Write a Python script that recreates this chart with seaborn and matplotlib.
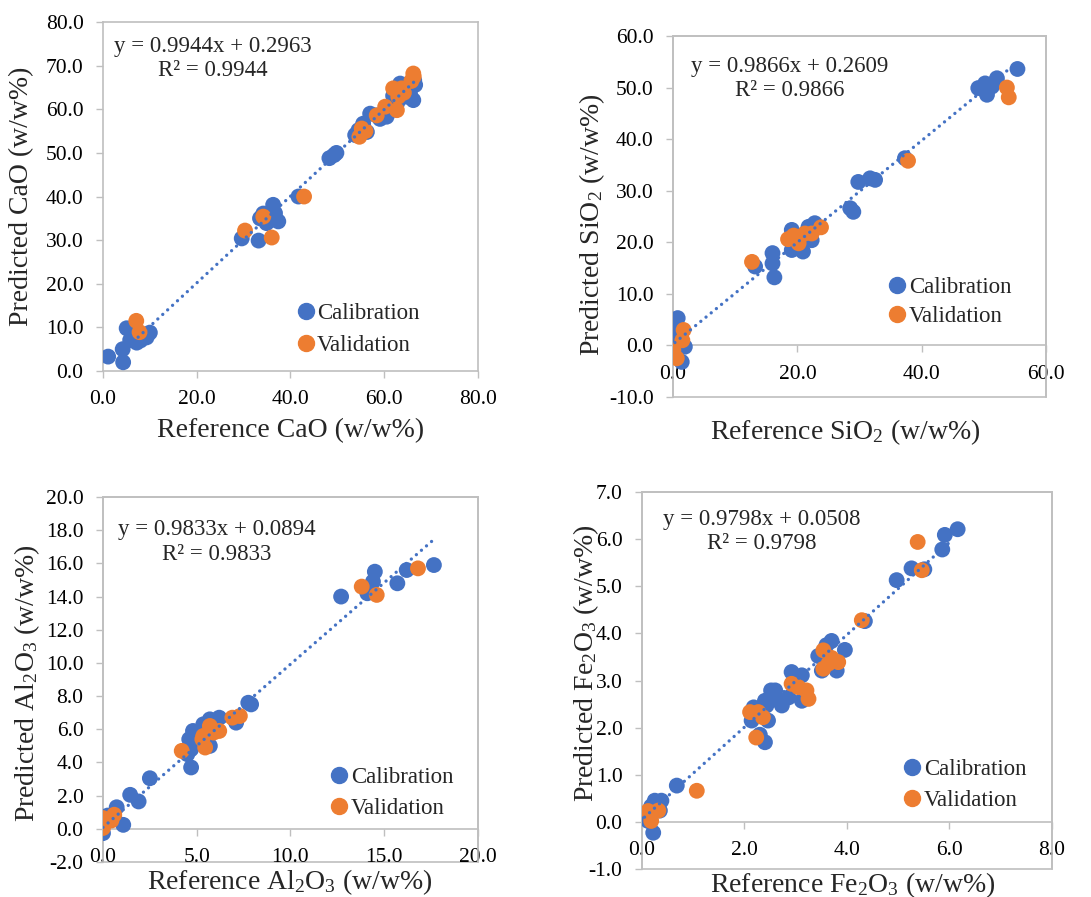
import numpy as np
import pandas as pd
import seaborn as sns
import matplotlib.pyplot as plt
from matplotlib.patches import Rectangle
from matplotlib.lines import Line2D

sns.set_style("white")
plt.rcParams['font.family'] = ['Liberation Serif', 'DejaVu Serif']
plt.rcParams['mathtext.default'] = 'regular'

BLUE = "#4472C4"
ORANGE = "#ED7D31"
FRAME = "#BFBFBF"

# ---- CaO ----
cao_cal_ref = [1.1, 4.3, 4.2, 5.05, 5.8, 7.2, 9.3, 10.0, 6.5, 8.0,
               29.6, 33.2, 33.5, 34.2, 34.9, 36.3, 36.7, 37.4, 35.5,
               41.7, 48.3, 49.8, 49.3,
               53.8, 54.5, 55.5, 56.3, 57.0, 58.4, 59.1, 60.5, 61.6, 61.9,
               63.4, 64.8, 66.2, 66.6, 66.4, 64.5, 62.8, 65.5]
cao_cal_pred = [3.3, 2.0, 5.0, 9.8, 7.1, 6.5, 7.7, 8.8, 8.0, 7.0,
                30.4, 29.9, 35.0, 36.1, 33.9, 38.1, 36.2, 34.3, 34.5,
                40.0, 48.8, 50.0, 49.5,
                54.1, 55.2, 56.7, 54.8, 59.0, 58.6, 57.8, 58.3, 59.8, 63.1,
                65.9, 62.9, 62.1, 65.6, 66.6, 64.0, 61.5, 63.5]
cao_val_ref = [7.1, 7.8, 30.3, 34.2, 36.0, 42.9, 54.7, 55.2, 56.0, 58.4,
               60.2, 62.7, 61.9, 63.7, 63.0, 64.2, 66.2, 66.3, 65.8]
cao_val_pred = [11.5, 8.9, 32.2, 35.4, 30.6, 40.0, 53.7, 55.6, 55.0, 58.6,
                60.6, 59.8, 64.8, 64.8, 62.9, 63.8, 68.2, 67.5, 66.5]

# ---- SiO2 ----
sio2_cal_ref = [55.4, 52.1, 49.1, 50.5, 50.2, 51.3, 37.3, 29.8, 31.7, 32.5,
                28.5, 29.0, 13.2, 16.0, 16.0, 16.3, 19.1, 19.1, 20.9, 21.8,
                22.8, 22.3, 20.4, 21.5, 0.75, 0.4, 1.9, 1.4, 1.0, 0.6]
sio2_cal_pred = [53.6, 51.8, 49.9, 48.6, 50.8, 50.2, 36.3, 31.7, 32.4, 32.1,
                 26.6, 25.9, 15.3, 17.9, 15.9, 13.2, 22.4, 18.5, 18.2, 23.0,
                 23.7, 20.4, 20.4, 22.0, 5.3, 3.3, -0.25, -3.2, 1.0, 1.5]
sio2_val_ref = [53.7, 54.0, 37.8, 12.7, 18.5, 20.2, 21.2, 22.3, 23.8, 19.4,
                1.7, 1.5, 0.05, 0.6]
sio2_val_pred = [50.0, 48.1, 35.8, 16.2, 20.6, 19.8, 21.7, 21.7, 22.9, 21.3,
                 3.0, 1.0, -0.9, -2.5]

# ---- Al2O3 ----
al2o3_cal_ref = [17.65, 16.2, 15.7, 14.5, 14.4, 14.1, 12.7, 7.9, 7.75, 7.1,
                 6.2, 4.8, 4.6, 4.7, 4.5, 4.7, 5.35, 5.7, 5.5, 5.7, 2.5, 1.45,
                 1.9, 0.73, 1.08, 0.6, 0.0, 0.25]
al2o3_cal_pred = [15.9, 15.6, 14.8, 15.5, 14.9, 14.2, 14.0, 7.5, 7.6, 6.4,
                  6.7, 5.9, 5.4, 4.8, 4.5, 3.7, 6.3, 6.6, 5.6, 5.0, 3.05, 2.05,
                  1.65, 1.3, 0.24, 0.7, -0.26, 0.8]
al2o3_val_ref = [16.8, 13.8, 14.6, 7.3, 6.9, 6.2, 4.2, 5.35, 5.7, 5.45, 5.9,
                 5.3, 0.0, 0.0, 0.6, 0.45]
al2o3_val_pred = [15.7, 14.6, 14.1, 6.8, 6.7, 5.9, 4.7, 5.6, 6.2, 4.9, 5.8,
                  5.4, 0.05, 0.65, 0.85, 0.5]

# ---- Fe2O3 ----
fe2o3_cal_ref = [6.16, 5.91, 5.86, 5.26, 5.51, 4.97, 4.35, 3.70, 3.96, 3.44,
                 3.51, 3.80, 3.6, 2.92, 3.12, 2.60, 2.73, 2.52, 2.68, 2.86,
                 3.12, 2.18, 2.14, 2.46, 2.4, 2.33, 2.40, 2.3, 2.43, 0.68,
                 0.25, 0.38, 0.35, 0.12, 0.22, 0.18]
fe2o3_cal_pred = [6.21, 6.09, 5.78, 5.38, 5.36, 5.13, 4.26, 3.84, 3.65, 3.52,
                  3.21, 3.21, 3.75, 3.18, 3.11, 2.79, 2.47, 2.79, 2.57, 2.64,
                  2.57, 2.43, 2.15, 2.15, 2.57, 2.37, 1.69, 1.85, 2.47, 0.77,
                  0.45, 0.45, 0.24, 0.02, -0.23, 0.33]
fe2o3_val_ref = [5.38, 5.46, 4.29, 3.54, 3.54, 3.70, 3.83, 3.64, 2.92, 3.21,
                 3.25, 3.05, 2.11, 2.27, 2.36, 2.23, 1.07, 0.12, 0.32, 0.18]
fe2o3_val_pred = [5.94, 5.34, 4.28, 3.64, 3.25, 3.48, 3.39, 3.36, 2.93, 2.79,
                  2.61, 2.86, 2.33, 2.33, 2.22, 1.79, 0.66, 0.23, 0.24, 0.02]

# trendline fits (slope, intercept, R2) and x-span
slopes = [0.9944, 0.9866, 0.9833, 0.9798]
intercepts = [0.2963, 0.2609, 0.0894, 0.0508]
r2_values = [0.9944, 0.9866, 0.9833, 0.9798]
trend_spans = [(7.5, 66.3), (0.3, 54.5), (0.0, 17.6), (0.05, 6.05)]

oxides = ["CaO", "SiO$_2$", "Al$_2$O$_3$", "Fe$_2$O$_3$"]

fig = plt.figure(figsize=(10.91, 8.97), dpi=100)

panels = [
    dict(cal=(cao_cal_ref, cao_cal_pred), val=(cao_val_ref, cao_val_pred),
         rect=[0.0944, 0.5864, 0.3437, 0.389], xlim=(0, 80), xstep=20,
         ylim=(0, 80), ystep=10, eq=(0.292, 0.895), leg=(0.516, 0.119),
         lsp=0.5, xlab=(0.5, -0.135), ylab=(-0.216, 0.5)),
    dict(cal=(sio2_cal_ref, sio2_cal_pred), val=(sio2_val_ref, sio2_val_pred),
         rect=[0.6169, 0.5574, 0.3419, 0.4025], xlim=(0, 60), xstep=20,
         ylim=(-10, 60), ystep=10, eq=(0.314, 0.882), leg=(0.577, 0.262),
         lsp=0.35, xlab=(0.461, -0.055), ylab=(-0.218, 0.476)),
    dict(cal=(al2o3_cal_ref, al2o3_cal_pred), val=(al2o3_val_ref, al2o3_val_pred),
         rect=[0.0944, 0.039, 0.3437, 0.4069], xlim=(0, 20), xstep=5,
         ylim=(-2, 20), ystep=2, eq=(0.304, 0.877), leg=(0.606, 0.189),
         lsp=0.4, xlab=(0.499, -0.013), ylab=(-0.203, 0.49)),
    dict(cal=(fe2o3_cal_ref, fe2o3_cal_pred), val=(fe2o3_val_ref, fe2o3_val_pred),
         rect=[0.5884, 0.0312, 0.3758, 0.4203], xlim=(0, 8), xstep=2,
         ylim=(-1, 7), ystep=1, eq=(0.293, 0.895), leg=(0.637, 0.222),
         lsp=0.43, xlab=(0.515, -0.003), ylab=(-0.135, 0.546)),
]

for i, p in enumerate(panels):
    ax = fig.add_axes(p["rect"])
    df = pd.concat([
        pd.DataFrame({"ref": p["cal"][0], "pred": p["cal"][1], "set": "Calibration"}),
        pd.DataFrame({"ref": p["val"][0], "pred": p["val"][1], "set": "Validation"}),
    ])
    sns.scatterplot(data=df, x="ref", y="pred", hue="set",
                    palette={"Calibration": BLUE, "Validation": ORANGE},
                    s=130, linewidth=0, alpha=1, legend=False, ax=ax, zorder=3)

    # dotted linear trendline
    x0, x1 = trend_spans[i]
    xt = np.array([x0, x1])
    ax.plot(xt, slopes[i] * xt + intercepts[i], color=BLUE, lw=2.4,
            linestyle=(0, (0.01, 2.0)), dash_capstyle="round", zorder=4)

    ax.set_xlim(*p["xlim"])
    ax.set_ylim(*p["ylim"])
    ax.set_xticks(np.arange(p["xlim"][0], p["xlim"][1] + 1e-9, p["xstep"]))
    ax.set_yticks(np.arange(p["ylim"][0], p["ylim"][1] + 1e-9, p["ystep"]))
    ax.xaxis.set_major_formatter(plt.FormatStrFormatter("%.1f"))
    ax.yaxis.set_major_formatter(plt.FormatStrFormatter("%.1f"))
    ax.tick_params(axis="both", direction="out", length=5, width=1,
                   color=FRAME, labelsize=15.5, pad=9, labelcolor="black")
    ax.tick_params(axis="both", which="both", bottom=True, left=True)

    for sp in ax.spines.values():
        sp.set_color(FRAME)
        sp.set_linewidth(1.2)
    if p["ylim"][0] < 0:
        ax.spines["bottom"].set_position(("data", 0))
        ax.add_patch(Rectangle((0, 0), 1, 1, transform=ax.transAxes, fill=False,
                               edgecolor=FRAME, lw=1.2, clip_on=False, zorder=0))

    ax.set_xlabel(f"Reference {oxides[i]} (w/w%)", fontsize=20)
    ax.set_ylabel(f"Predicted {oxides[i]} (w/w%)", fontsize=20)
    ax.xaxis.set_label_coords(*p["xlab"])
    ax.yaxis.set_label_coords(*p["ylab"])
    ax.yaxis.label.set_va("center")

    ax.text(p["eq"][0], p["eq"][1],
            f"y = {slopes[i]:.4f}x + {intercepts[i]:.4f}\nR² = {r2_values[i]:.4f}",
            transform=ax.transAxes, ha="center", va="center",
            multialignment="center", fontsize=16.5, linespacing=1.2, zorder=5)

    handles = [Line2D([], [], marker="o", ls="", color=BLUE, markersize=11.5,
                      label="Calibration"),
               Line2D([], [], marker="o", ls="", color=ORANGE, markersize=11.5,
                      label="Validation")]
    ax.legend(handles=handles, loc="center left", bbox_to_anchor=p["leg"],
              frameon=False, fontsize=16.5, handlelength=0.8, handletextpad=0.1,
              borderpad=0, borderaxespad=0, labelspacing=p["lsp"])

fig.savefig("out.png", dpi=100)
